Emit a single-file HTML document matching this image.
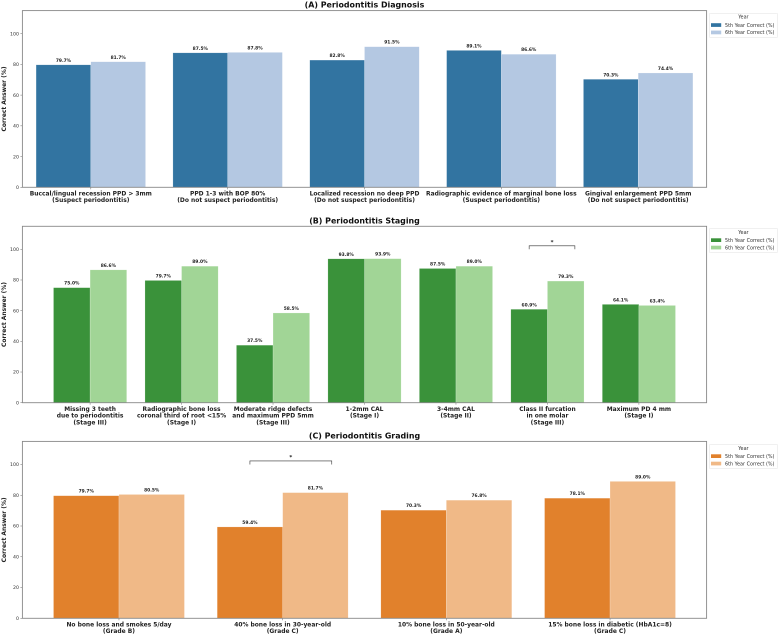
<!DOCTYPE html>
<html lang="en">
<head>
<meta charset="utf-8">
<title>Periodontitis Correct Answers</title>
<style>
html,body{margin:0;padding:0;background:#fff;width:779px;height:635px;overflow:hidden}
svg{display:block;font-family:"DejaVu Sans","Liberation Sans",sans-serif}
</style>
</head>
<body>
<svg id="figure" width="779" height="635" viewBox="0 0 779 635" xmlns="http://www.w3.org/2000/svg"></svg>
<script>
var yTicks = [0, 20, 40, 60, 80, 100];
var seriesNames = ['5th Year Correct (%)', '6th Year Correct (%)'];
var legendTitle = 'Year';
var yAxisLabel = 'Correct Answer (%)';

var titleA = '(A) Periodontitis Diagnosis';
var categoriesA = [
  'Buccal/lingual recession PPD > 3mm\n(Suspect periodontitis)',
  'PPD 1-3 with BOP 80%\n(Do not suspect periodontitis)',
  'Localized recession no deep PPD\n(Do not suspect periodontitis)',
  'Radiographic evidence of marginal bone loss\n(Suspect periodontitis)',
  'Gingival enlargement PPD 5mm\n(Do not suspect periodontitis)'
];
var year5A = [79.7, 87.5, 82.8, 89.1, 70.3];
var year6A = [81.7, 87.8, 91.5, 86.6, 74.4];
var significantA = [];

var titleB = '(B) Periodontitis Staging';
var categoriesB = [
  'Missing 3 teeth\ndue to periodontitis\n(Stage III)',
  'Radiographic bone loss\ncoronal third of root <15%\n(Stage I)',
  'Moderate ridge defects\nand maximum PPD 5mm\n(Stage III)',
  '1-2mm CAL\n(Stage I)',
  '3-4mm CAL\n(Stage II)',
  'Class II furcation\nin one molar\n(Stage III)',
  'Maximum PD 4 mm\n(Stage I)'
];
var year5B = [75.0, 79.7, 37.5, 93.8, 87.5, 60.9, 64.1];
var year6B = [86.6, 89.0, 58.5, 93.9, 89.0, 79.3, 63.4];
var significantB = [5];

var titleC = '(C) Periodontitis Grading';
var categoriesC = [
  'No bone loss and smokes 5/day\n(Grade B)',
  '40% bone loss in 30-year-old\n(Grade C)',
  '10% bone loss in 50-year-old\n(Grade A)',
  '15% bone loss in diabetic (HbA1c=8)\n(Grade C)'
];
var year5C = [79.7, 59.4, 70.3, 78.1];
var year6C = [80.5, 81.7, 76.8, 89.0];
var significantC = [1];

var NS = 'http://www.w3.org/2000/svg';
var svg = document.getElementById('figure');

function make(tag, parent, props, content) {
  var el = document.createElementNS(NS, tag);
  for (var k in props) { el.setAttribute(k, props[k]); }
  if (content !== undefined) { el.textContent = content; }
  parent.appendChild(el);
  return el;
}

function drawPanel(key, title, categories, year5, year6, significant, colors, box, margin, legendTop) {
  var left = 22.4, right = 706.6;
  var n = categories.length;
  var domainMin = -margin, domainMax = n - 1 + margin;
  function xScale(v) { return left + (v - domainMin) / (domainMax - domainMin) * (right - left); }
  function yScale(v) { return box.bottom - v / 115 * (box.bottom - box.top); }

  var panel = make('g', svg, {});
  
  

  var titleEl = make('text', panel, {x: (left + right) / 2, y: box.top - 3, 'text-anchor': 'middle', 'font-size': 7.9, 'font-weight': 'bold', fill: '#111'}, title);
  
  

  yTicks.forEach(function (t) {
    var py = yScale(t);
    var tick = make('line', panel, {x1: left - 2, x2: left, y1: py, y2: py, stroke: '#666', 'stroke-width': 0.5});
    
    
    var label = make('text', panel, {x: left - 3.4, y: py + 1.7, 'text-anchor': 'end', 'font-size': 4.7, fill: '#333'}, String(t));
    
    
  });

  var midY = (box.top + box.bottom) / 2;
  var yTitle = make('text', panel, {x: 6.2, y: midY, 'text-anchor': 'middle', 'font-size': 5.95, 'font-weight': 'bold', fill: '#222', transform: 'rotate(-90 6.2 ' + midY + ')'}, yAxisLabel);
  
  

  var groups = [year5, year6];
  groups.forEach(function (values, s) {
    values.forEach(function (v, i) {
      var x0 = xScale(i - 0.4 + s * 0.4), x1 = xScale(i + s * 0.4);
      var py = yScale(v);
      var bar = make('rect', panel, {x: x0, y: py, width: x1 - x0, height: box.bottom - py, fill: colors[s], stroke: '#fff', 'stroke-opacity': 0.45, 'stroke-width': 0.4});
      
      
      var valueLabel = make('text', panel, {x: (x0 + x1) / 2, y: py - 3, 'text-anchor': 'middle', 'font-size': 4.4, 'font-weight': 'bold', fill: '#222'}, v.toFixed(1) + '%');
      
      
    });
  });

  categories.forEach(function (c, i) {
    var px = xScale(i);
    var tick = make('line', panel, {x1: px, x2: px, y1: box.bottom, y2: box.bottom + 2, stroke: '#666', 'stroke-width': 0.5});
    
    
    var label = make('text', panel, {'text-anchor': 'middle', 'font-size': 5.95, 'font-weight': 'bold', fill: '#222'});
    
    
    c.split('\n').forEach(function (line, k) {
      make('tspan', label, {x: px, y: box.bottom + 8.2 + k * 6.7}, line);
    });
  });

  significant.forEach(function (i) {
    var xa = xScale(i - 0.2), xb = xScale(i + 0.3);
    var y0 = yScale(100), y1 = yScale(102.3);
    var bracket = make('path', panel, {d: 'M' + xa + ' ' + y0 + 'L' + xa + ' ' + y1 + 'L' + xb + ' ' + y1 + 'L' + xb + ' ' + y0, fill: 'none', stroke: '#333', 'stroke-width': 0.6});
    
    
    var star = make('text', panel, {x: (xa + xb) / 2, y: yScale(104.2) + 1, 'text-anchor': 'middle', 'font-size': 5.5, 'font-weight': 'bold', fill: '#222'}, '*');
    
    
  });

  var frame = make('rect', panel, {x: left, y: box.top, width: right - left, height: box.bottom - box.top, fill: 'none', stroke: '#888', 'stroke-width': 0.9});
  
  

  var legend = make('g', panel, {});
  
  
  var legendBox = make('rect', legend, {x: 709.4, y: legendTop, width: 68.2, height: 24.2, rx: 0.8, fill: '#fff', stroke: '#e2e2e2', 'stroke-width': 0.5});
  
  
  var lt = make('text', legend, {x: 743.4, y: legendTop + 5.4, 'text-anchor': 'middle', 'font-size': 4.9, fill: '#333'}, legendTitle);
  
  
  seriesNames.forEach(function (name, s) {
    var rowY = legendTop + 9.9 + s * 7.4;
    var swatch = make('rect', legend, {x: 711, y: rowY, width: 10.2, height: 3.7, fill: colors[s]});
    
    
    var entry = make('text', legend, {x: 725, y: rowY + 3.6, 'font-size': 4.9, fill: '#333'}, name);
    
    
  });
}

drawPanel('a', titleA, categoriesA, year5A, year6A, significantA, ['#3274a1', '#b4c8e2'], {top: 10.6, bottom: 187.3}, 0.5, 13.3);
drawPanel('b', titleB, categoriesB, year5B, year6B, significantB, ['#3a923a', '#a1d596'], {top: 226.3, bottom: 402.7}, 0.74, 228.4);
drawPanel('c', titleC, categoriesC, year5C, year6C, significantC, ['#e1812c', '#f0b987'], {top: 441.4, bottom: 618.3}, 0.59, 444.4);
</script>
</body>
</html>
